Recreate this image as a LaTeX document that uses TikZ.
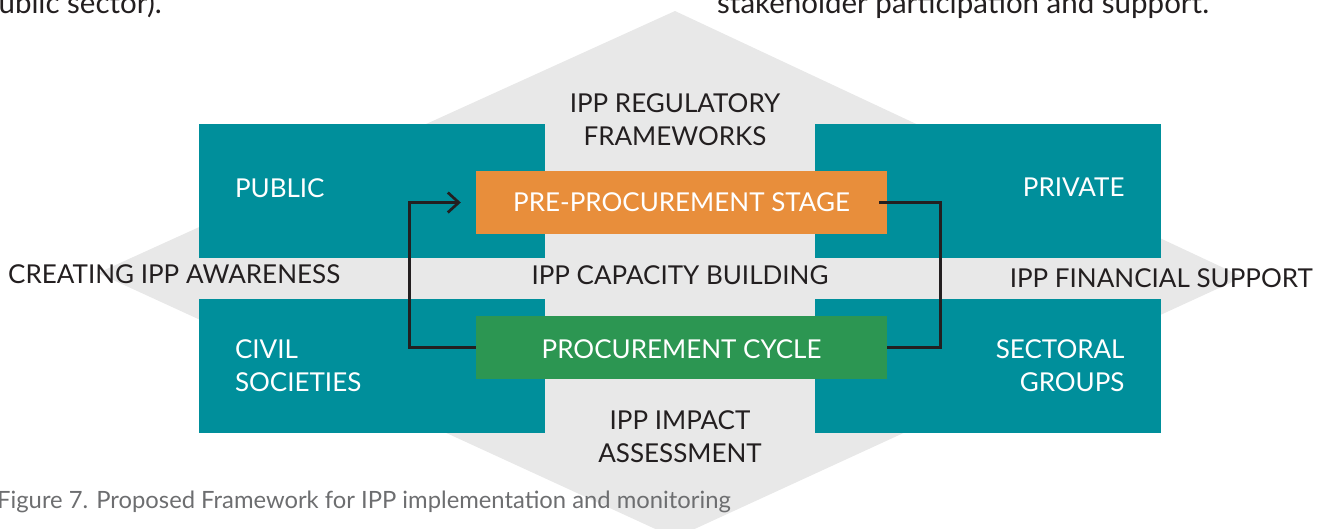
\documentclass[tikz,border=0pt]{standalone}
\usepackage{fontspec}
\setmainfont{Lato}
\usepackage{tikz}
\usetikzlibrary{arrows.meta}

\definecolor{ippteal}{HTML}{008F9B}
\definecolor{ipporange}{HTML}{E88E3B}
\definecolor{ippgreen}{HTML}{2C9652}
\definecolor{ippgrey}{HTML}{E8E8E8}
\definecolor{ipptext}{HTML}{231F20}
\definecolor{ippcaption}{HTML}{6D6E70}

\begin{document}
\begin{tikzpicture}[x=1pt, y=-1pt,
    sector/.style={fill=ippteal, text=white, minimum height=134pt, inner xsep=36pt, inner ysep=0pt, text width=274pt, font=\fontsize{26}{33}\selectfont},
    stage/.style={minimum width=411pt, minimum height=63pt, inner sep=0pt, text=white, font=\fontsize{26}{33}\selectfont},
    theme/.style={text=ipptext, inner sep=0pt, align=center, font=\fontsize{26}{33}\selectfont},
    link/.style={draw=ipptext, line width=2.7pt}]
    \useasboundingbox (0,0) rectangle (1325,528);

    % grey diamond behind everything
    \fill[ippgrey] (98,273) -- (675,11) -- (1243,277) -- (675,538) -- cycle;

    % sectors
    \node[sector, align=left, text depth=6pt] (pub) at (372,191) {PUBLIC};
    \node[sector, align=right, text depth=7pt] (priv) at (987.5,191) {PRIVATE};
    \node[sector, align=left] (civ) at (372,366) {CIVIL\\SOCIETIES};
    \node[sector, align=right] (sec) at (987.5,366) {SECTORAL\\GROUPS};

    % themes on the diamond
    \node[theme] (reg) at (675,120) {IPP REGULATORY\\FRAMEWORKS};
    \node[theme] (cap) at (680,275) {IPP CAPACITY BUILDING};
    \node[theme] (imp) at (680,437) {IPP IMPACT\\ASSESSMENT};
    \node[theme, anchor=west] (aware) at (8,274) {CREATING IPP AWARENESS};
    \node[theme, anchor=east] (fin) at (1313,278) {IPP FINANCIAL SUPPORT};

    % stages
    \node[stage, fill=ipporange] (pre) at (681.5,202.5) {PRE-PROCUREMENT STAGE};
    \node[stage, fill=ippgreen, text height=22.7pt] (cyc) at (681.5,347.5) {PROCUREMENT CYCLE};

    % loop
    \draw[link] ([xshift=-8pt]pre.east) -| ([xshift=53pt]cyc.east) -- (cyc.east);
    \draw[link, -{Straight Barb[length=11pt, width=20pt]}] (cyc.west) -- ([xshift=-66pt]cyc.west) |- ([xshift=-15pt]pre.west);

    % surrounding text
    \node[anchor=base east, inner sep=0pt, text=ipptext, font=\fontsize{29.5}{34}\selectfont] (prevleft) at (162,13) {Public sector).};
    \node[anchor=base west, inner sep=0pt, text=ipptext, font=\fontsize{29.5}{34}\selectfont] (prevright) at (717,13) {stakeholder participation and support.};
    \node[anchor=base west, inner sep=0pt, text=ippcaption, font=\fontsize{23.8}{28}\selectfont] (caption) at (-3,508) {Figure 7. Proposed Framework for IPP implementation and monitoring};
\end{tikzpicture}
\end{document}
